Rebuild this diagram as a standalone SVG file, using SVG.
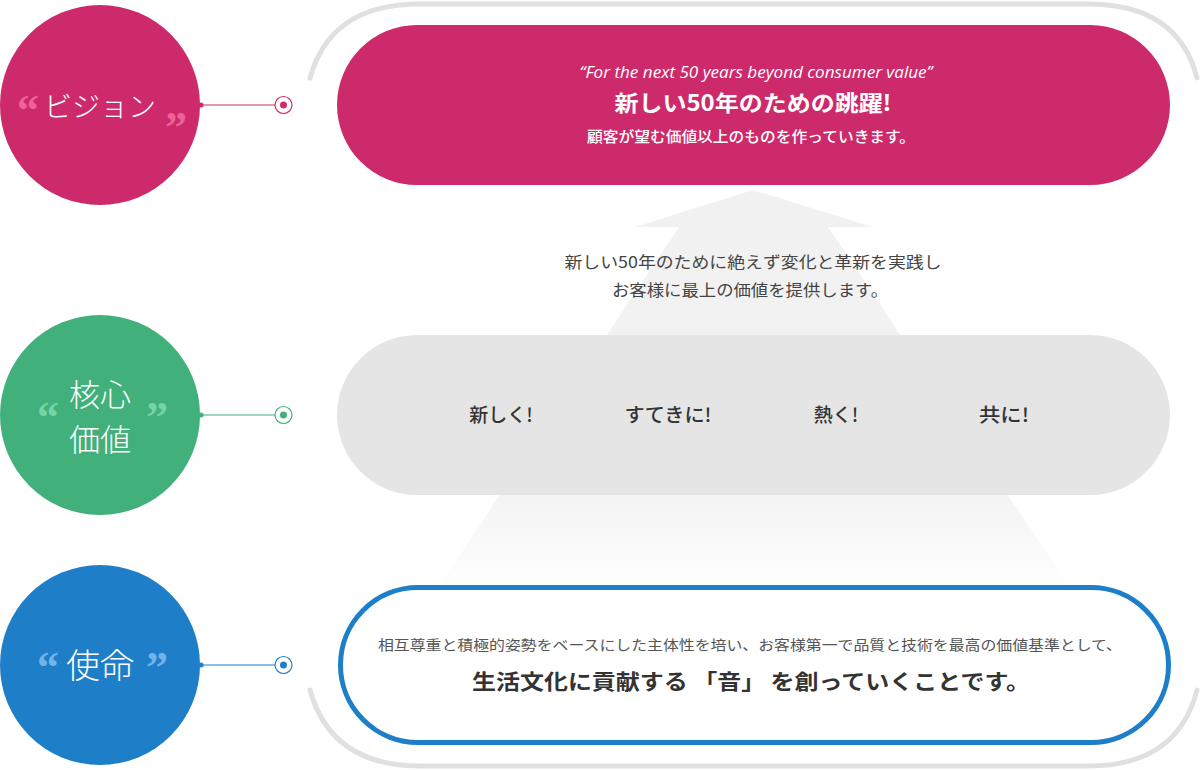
<svg xmlns="http://www.w3.org/2000/svg" width="1200" height="770" viewBox="0 0 1200 770">
<defs>
<linearGradient id="arrowGrad" x1="0" y1="190" x2="0" y2="592" gradientUnits="userSpaceOnUse">
<stop offset="0" stop-color="#f1f1f1"/>
<stop offset="0.75" stop-color="#f3f3f3"/>
<stop offset="1" stop-color="#ffffff"/>
</linearGradient>
</defs>
<style>
.jp{font-family:"Noto Sans CJK JP","Noto Sans",sans-serif;}
.ctitle{font-size:34px;fill:#ffffff;font-weight:300;text-anchor:middle;}
.quote{font-family:"Liberation Serif",serif;font-weight:bold;font-size:44px;}
.bracket{fill:none;stroke:#e0e0e0;stroke-width:5;stroke-linecap:round;}
.value{font-size:19px;fill:#333333;font-weight:500;text-anchor:middle;}
.mid{font-size:16px;fill:#444444;text-anchor:middle;}
</style>
<rect width="1200" height="770" fill="#ffffff"/>

<g id="frame">
<path class="bracket" d="M310,78 C322,35 352,4 420,4 L1088,4 C1156,4 1186,35 1197,78"/>
<path class="bracket" d="M310,690 C322,733 352,766 420,766 L1088,766 C1156,766 1186,733 1197,690"/>
</g>

<g id="arrow">
<path d="M753,190 L873,227 L828,227 L1073,592 L435,592 L679,227 L635,227 Z" fill="url(#arrowGrad)"/>
</g>

<g id="vision-box">
<rect x="337" y="25" width="833" height="160" rx="80" fill="#cd2a6b"/>
<text x="756" y="78" text-anchor="middle" font-family="'Open Sans','Noto Sans',sans-serif" font-style="italic" font-size="16" fill="#ffffff" textLength="353" lengthAdjust="spacingAndGlyphs">“For the next 50 years beyond consumer value”</text>
<text class="jp" x="753" y="111" text-anchor="middle" font-size="22" font-weight="bold" fill="#ffffff" textLength="277" lengthAdjust="spacingAndGlyphs">新しい50年のための跳躍!</text>
<text class="jp" x="751" y="142" text-anchor="middle" font-size="15" font-weight="500" fill="#ffffff" textLength="328" lengthAdjust="spacingAndGlyphs">顧客が望む価値以上のものを作っていきます。</text>
</g>

<g id="middle-text">
<text class="jp mid" x="753" y="268" textLength="377" lengthAdjust="spacingAndGlyphs">新しい50年のために絶えず変化と革新を実践し</text>
<text class="jp mid" x="750" y="296" textLength="276" lengthAdjust="spacingAndGlyphs">お客様に最上の価値を提供します。</text>
</g>

<g id="values-box">
<rect x="337" y="335" width="833" height="160" rx="80" fill="#e5e5e5"/>
<text class="jp value" x="501" y="422">新しく!</text>
<text class="jp value" x="668" y="422" textLength="87" lengthAdjust="spacingAndGlyphs">すてきに!</text>
<text class="jp value" x="836" y="422">熱く!</text>
<text class="jp value" x="1004" y="422" textLength="50" lengthAdjust="spacingAndGlyphs">共に!</text>
</g>

<g id="mission-box">
<rect x="340.5" y="587.5" width="828" height="155" rx="77.5" fill="#ffffff" stroke="#1e7fc8" stroke-width="5"/>
<text class="jp" x="750" y="650" text-anchor="middle" font-size="14" fill="#555555" textLength="744" lengthAdjust="spacingAndGlyphs">相互尊重と積極的姿勢をベースにした主体性を培い、お客様第一で品質と技術を最高の価値基準として、</text>
<text class="jp" x="751" y="689" text-anchor="middle" font-size="21" font-weight="bold" fill="#333333" textLength="558" lengthAdjust="spacingAndGlyphs">生活文化に貢献する 「音」 を創っていくことです。</text>
</g>

<g id="vision">
<circle cx="100" cy="105" r="100" fill="#cd2a6b"/>
<text class="quote" x="17" y="125" fill="#ee6299">“</text>
<text class="quote" x="165" y="142" fill="#ee6299">”</text>
<text class="jp ctitle" x="100" y="117" style="font-size:28px">ビジョン</text>
</g>

<g id="core">
<circle cx="100" cy="415" r="100" fill="#42b07a"/>
<text class="quote" x="37" y="432" fill="#74d4a4">“</text>
<text class="quote" x="146" y="432" fill="#74d4a4">”</text>
<text class="jp ctitle" style="font-size:31px"><tspan x="100" y="406">核心</tspan><tspan x="100" y="451">価値</tspan></text>
</g>

<g id="mission">
<circle cx="100" cy="665" r="100" fill="#1e7fc8"/>
<text class="quote" x="37" y="682" fill="#70b4ea">“</text>
<text class="quote" x="146" y="682" fill="#70b4ea">”</text>
<text class="jp ctitle" x="100" y="678">使命</text>
</g>

<g id="connectors">
<g stroke="#cd2a6b" fill="#cd2a6b">
<line x1="200" y1="105" x2="275" y2="105" stroke-width="1"/>
<circle cx="201" cy="105" r="2.5" stroke="none"/>
<circle cx="283.5" cy="105" r="8.5" fill="#ffffff" stroke-width="1.2"/>
<circle cx="283.5" cy="105" r="3.5" stroke="none"/>
</g>
<g stroke="#42b07a" fill="#42b07a">
<line x1="200" y1="415" x2="275" y2="415" stroke-width="1"/>
<circle cx="201" cy="415" r="2.5" stroke="none"/>
<circle cx="283.5" cy="415" r="8.5" fill="#ffffff" stroke-width="1.2"/>
<circle cx="283.5" cy="415" r="3.5" stroke="none"/>
</g>
<g stroke="#1e7fc8" fill="#1e7fc8">
<line x1="200" y1="665" x2="275" y2="665" stroke-width="1"/>
<circle cx="201" cy="665" r="2.5" stroke="none"/>
<circle cx="283.5" cy="665" r="8.5" fill="#ffffff" stroke-width="1.2"/>
<circle cx="283.5" cy="665" r="3.5" stroke="none"/>
</g>
</g>
</svg>
